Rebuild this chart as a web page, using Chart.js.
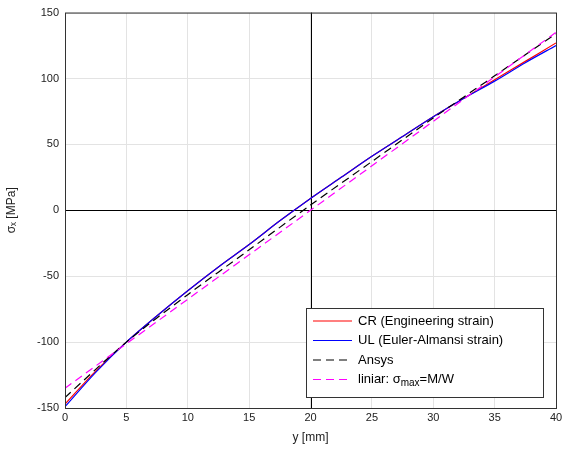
<!DOCTYPE html>
<html><head><meta charset="utf-8">
<script src="https://cdn.jsdelivr.net/npm/chart.js@4"></script>
<style>body{margin:0;background:#fff}#wrap{width:574px;height:449px}</style>
</head><body><div id="wrap"><canvas id="c"></canvas></div>
<script>
const xs = [0,2.5,5,7.5,10,12.5,15,17.5,20,22.5,25,27.5,30,32.5,35,37.5,40];
const cr = [-147,-122,-100,-80,-61,-43,-26,-8,9,25,41,56,71,85,99,113,127];
const ul = [-149,-123,-100,-80,-61,-43,-26,-8,9,25,41,56,71,85,98,112,125];
const ansysX = [0,5,10,15,20,25,30,35,40];
const ansys = [-142,-100,-64,-30,4,37,70,102,134];
const linX = [0,40];
const lin = [-135,135];
const pts = (x, y) => x.map((v, i) => ({x: v, y: y[i]}));

const FONT = 'Liberation Sans, Arial, sans-serif';
const legendItems = [
  {c: '#ff0000', dash: [], t: 'CR (Engineering strain)'},
  {c: '#0000ff', dash: [], t: 'UL (Euler-Almansi strain)'},
  {c: '#000000', dash: [8, 5], t: 'Ansys'},
  {c: '#ff00ff', dash: [8, 5], t: 'liniar: σ', sub: 'max', after: '=M/W'}
];

const deco = {
  id: 'deco',
  beforeDatasetsDraw(chart) {
    const {ctx, chartArea: a, scales: {x, y}} = chart;
    ctx.save();
    ctx.strokeStyle = '#000'; ctx.lineWidth = 1;
    const x0 = Math.round(x.getPixelForValue(20)) + 0.5;
    const y0 = Math.round(y.getPixelForValue(0)) + 0.5;
    ctx.beginPath();
    ctx.moveTo(x0, a.top); ctx.lineTo(x0, a.bottom);
    ctx.moveTo(a.left, y0); ctx.lineTo(a.right, y0);
    ctx.stroke();
    ctx.restore();
  },
  afterDraw(chart) {
    const {ctx, chartArea: a} = chart;
    ctx.save();
    ctx.strokeStyle = '#333'; ctx.lineWidth = 1;
    ctx.strokeRect(a.left + 0.5, a.top + 0.5, a.right - a.left, a.bottom - a.top);
    const bx = 306, by = 308, bw = 237, bh = 89;
    ctx.fillStyle = '#fff'; ctx.fillRect(bx, by, bw, bh);
    ctx.strokeStyle = '#333'; ctx.strokeRect(bx + 0.5, by + 0.5, bw, bh);
    ctx.textBaseline = 'middle';
    legendItems.forEach((it, i) => {
      const yy = by + 13 + i * 19.5;
      ctx.strokeStyle = it.c; ctx.setLineDash(it.dash); ctx.lineWidth = 1.2;
      ctx.beginPath(); ctx.moveTo(313, yy); ctx.lineTo(352, yy); ctx.stroke();
      ctx.setLineDash([]);
      ctx.fillStyle = '#000'; ctx.font = '13px ' + FONT;
      ctx.fillText(it.t, 358, yy);
      if (it.sub) {
        let w = ctx.measureText(it.t).width;
        ctx.font = '10px ' + FONT;
        ctx.fillText(it.sub, 358 + w, yy + 4);
        w += ctx.measureText(it.sub).width;
        ctx.font = '13px ' + FONT;
        ctx.fillText(it.after, 358 + w, yy);
      }
    });
    ctx.restore();
  }
};

const ds = (label, data, color, dash, order) => ({
  label, data, borderColor: color, borderWidth: 1.2, borderDash: dash, order,
  pointRadius: 0, fill: false, tension: 0.3
});

new Chart(document.getElementById('c'), {
  type: 'line',
  data: {datasets: [
    ds('CR', pts(xs, cr), '#ff0000', [], 4),
    ds('UL', pts(xs, ul), '#0000ff', [], 3),
    ds('Ansys', pts(ansysX, ansys), '#000000', [8, 5], 2),
    ds('liniar', pts(linX, lin), '#ff00ff', [8, 5], 1)
  ]},
  options: {
    responsive: true, maintainAspectRatio: false, animation: false,
    layout: {padding: {top: 7, right: 18, left: 0, bottom: 0}},
    plugins: {legend: {display: false}, tooltip: {enabled: false}},
    scales: {
      x: {
        type: 'linear', min: 0, max: 40,
        ticks: {stepSize: 5, color: '#222', font: {family: FONT, size: 11}},
        grid: {color: '#e3e3e3', drawTicks: false},
        border: {display: false},
        title: {display: true, text: 'y [mm]', color: '#222', font: {family: FONT, size: 12}, padding: {top: 4}},
        afterFit(s) { s.height = 41; }
      },
      y: {
        min: -150, max: 150,
        ticks: {stepSize: 50, color: '#222', font: {family: FONT, size: 11}, padding: 6},
        grid: {color: '#e3e3e3', drawTicks: false},
        border: {display: false},
        title: {display: true, text: 'σₓ [MPa]', color: '#222', font: {family: FONT, size: 12}},
        afterFit(s) { s.width = 65; }
      }
    }
  },
  plugins: [deco]
});
</script></body></html>
